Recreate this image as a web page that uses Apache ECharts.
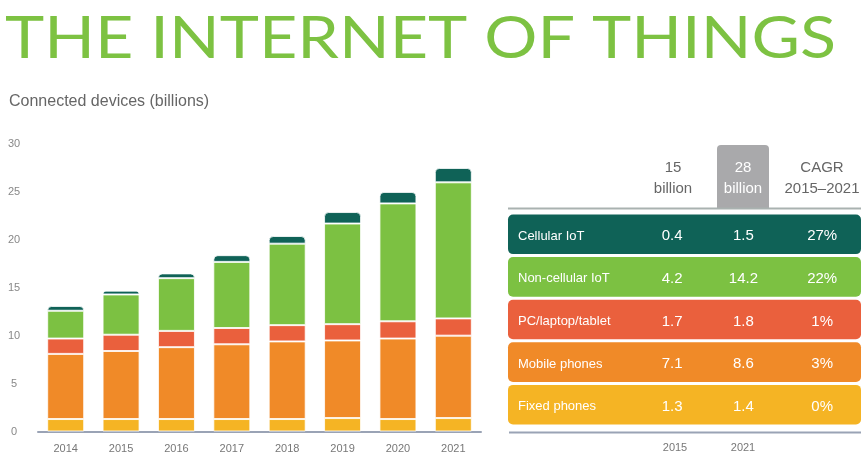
<!DOCTYPE html>
<html>
<head>
<meta charset="utf-8">
<script src="https://cdn.jsdelivr.net/npm/echarts@6/dist/echarts.min.js"></script>
<style>
  html, body { margin: 0; padding: 0; background: #fff; }
  #chart { width: 868px; height: 458px; }
</style>
</head>
<body>
<div id="chart"></div>
<script>
// Chart data (billions of connected devices)
var years = ['2014', '2015', '2016', '2017', '2018', '2019', '2020', '2021'];
var fixedPhones  = [1.3, 1.3, 1.3, 1.3, 1.3, 1.4, 1.3, 1.4];
var mobilePhones = [6.8, 7.1, 7.5, 7.8, 8.1, 8.1, 8.4, 8.6];
var pcLaptop     = [1.6, 1.7, 1.7, 1.7, 1.7, 1.7, 1.8, 1.8];
var nonCellIoT   = [2.9, 4.2, 5.5, 6.9, 8.5, 10.5, 12.3, 14.2];
var cellIoT      = [0.5, 0.4, 0.5, 0.7, 0.8, 1.2, 1.2, 1.5];
var yTicks = [0, 5, 10, 15, 20, 25, 30];

// Table data
var rowNames = ['Cellular IoT', 'Non-cellular IoT', 'PC/laptop/tablet', 'Mobile phones', 'Fixed phones'];
var val2015 = ['0.4', '4.2', '1.7', '7.1', '1.3'];
var val2021 = ['1.5', '14.2', '1.8', '8.6', '1.4'];
var cagr = ['27%', '22%', '1%', '3%', '0%'];
var headers = ['15\nbillion', '28\nbillion', 'CAGR\n2015\u20132021'];
var footers = ['2015', '2021'];

var colors = {
  cell: '#0f6257',
  noncell: '#7cc142',
  pc: '#ea603d',
  mobile: '#f08a28',
  fixed: '#f5b424'
};
var rowColors = [colors.cell, colors.noncell, colors.pc, colors.mobile, colors.fixed];

var FONT = "'Liberation Sans', Arial, sans-serif";
var chart = echarts.init(document.getElementById('chart'));

// stretch the title to span the page width like the original lettering
var title = 'THE INTERNET OF THINGS';
var titleFont = '400 58px Lato, sans-serif';
var ctx = document.createElement('canvas').getContext('2d');
ctx.font = titleFont;
var titleScale = 831 / ctx.measureText(title).width;

function segment(name, data, color, top) {
  return {
    name: name,
    type: 'bar',
    stack: 'total',
    xAxisIndex: 0,
    yAxisIndex: 0,
    barWidth: 37,
    data: data,
    itemStyle: {
      color: color,
      borderColor: 'rgba(255,255,255,0.8)',
      borderWidth: 1,
      borderRadius: top ? [4, 4, 0, 0] : 0
    },
    silent: true
  };
}

function renderRow(params, api) {
  var i = api.value(1);
  var c = api.coord([0, i]);
  var band = api.size([0, 1])[1];
  var h = band - 3;
  var cs = params.coordSys;
  var x0 = cs.x, w = cs.width, cy = c[1] + 2;
  function txt(x, s, font, align) {
    return {
      type: 'text',
      x: x, y: cy,
      style: {
        text: s, fill: '#fff', font: font,
        align: align, verticalAlign: 'middle',
        textAlign: align, textVerticalAlign: 'middle'
      }
    };
  }
  var numFont = '15px ' + FONT;
  return {
    type: 'group',
    children: [
      { type: 'rect', shape: { x: x0, y: c[1] - h / 2, width: w, height: h, r: 5 },
        style: { fill: rowColors[i] } },
      txt(x0 + 10, rowNames[i], '13px ' + FONT, 'left'),
      txt(x0 + w * 0.465, val2015[i], numFont, 'center'),
      txt(x0 + w * 0.667, val2021[i], numFont, 'center'),
      txt(x0 + w * 0.89, cagr[i], numFont, 'center')
    ]
  };
}

var option = {
  backgroundColor: '#fff',
  animation: false,
  grid: [
    { left: 38, right: 387, top: 144, bottom: 26.5 },
    { left: 508, right: 7, top: 213, height: 213 }
  ],
  xAxis: [
    {
      type: 'category',
      gridIndex: 0,
      data: years,
      axisLine: { lineStyle: { color: '#9aa3b5', width: 2 } },
      axisTick: { show: false },
      axisLabel: { color: '#777', fontSize: 11, fontFamily: FONT, margin: 12 }
    },
    { type: 'value', gridIndex: 1, min: 0, max: 1, show: false }
  ],
  yAxis: [
    {
      type: 'value',
      gridIndex: 0,
      min: yTicks[0],
      max: yTicks[yTicks.length - 1],
      interval: 5,
      axisLine: { show: false },
      axisTick: { show: false },
      splitLine: { show: false },
      axisLabel: { color: '#888', fontSize: 11, fontFamily: FONT, align: 'center', margin: 24 }
    },
    { type: 'category', gridIndex: 1, data: rowNames, inverse: true, show: false }
  ],
  series: [
    segment('Fixed phones', fixedPhones, colors.fixed, false),
    segment('Mobile phones', mobilePhones, colors.mobile, false),
    segment('PC/laptop/tablet', pcLaptop, colors.pc, false),
    segment('Non-cellular IoT', nonCellIoT, colors.noncell, false),
    segment('Cellular IoT', cellIoT, colors.cell, true),
    {
      type: 'custom',
      xAxisIndex: 1,
      yAxisIndex: 1,
      renderItem: renderRow,
      data: rowNames.map(function (n, i) { return [0, i]; }),
      silent: true
    }
  ],
  graphic: [
    {
      type: 'text', left: 5, top: 10, scaleX: titleScale,
      style: { text: title, fill: '#7dc242', font: titleFont }
    },
    {
      type: 'text', left: 9, top: 94,
      style: { text: 'Connected devices (billions)', fill: '#666', font: '16px ' + FONT }
    },
    // table header
    {
      type: 'rect', shape: { x: 717, y: 145, width: 52, height: 63, r: [4, 4, 0, 0] },
      style: { fill: '#a9a9ab' }
    },
    {
      type: 'text', x: 673, y: 178,
      style: { text: headers[0], fill: '#666', font: '15px ' + FONT, lineHeight: 21, align: 'center', verticalAlign: 'middle' }
    },
    {
      type: 'text', x: 743, y: 178,
      style: { text: headers[1], fill: '#fff', font: '15px ' + FONT, lineHeight: 21, align: 'center', verticalAlign: 'middle' }
    },
    {
      type: 'text', x: 822, y: 178,
      style: { text: headers[2], fill: '#666', font: '15px ' + FONT, lineHeight: 21, align: 'center', verticalAlign: 'middle' }
    },
    {
      type: 'line', shape: { x1: 508, y1: 208.5, x2: 861, y2: 208.5 },
      style: { stroke: '#a9b2b0', lineWidth: 2 }
    },
    // table footer
    {
      type: 'line', shape: { x1: 509, y1: 432.5, x2: 861, y2: 432.5 },
      style: { stroke: '#9aa3b5', lineWidth: 2 }
    },
    {
      type: 'text', x: 675, y: 448,
      style: { text: footers[0], fill: '#777', font: '11px ' + FONT, align: 'center', verticalAlign: 'middle' }
    },
    {
      type: 'text', x: 743, y: 448,
      style: { text: footers[1], fill: '#777', font: '11px ' + FONT, align: 'center', verticalAlign: 'middle' }
    }
  ]
};

chart.setOption(option);
</script>
</body>
</html>
